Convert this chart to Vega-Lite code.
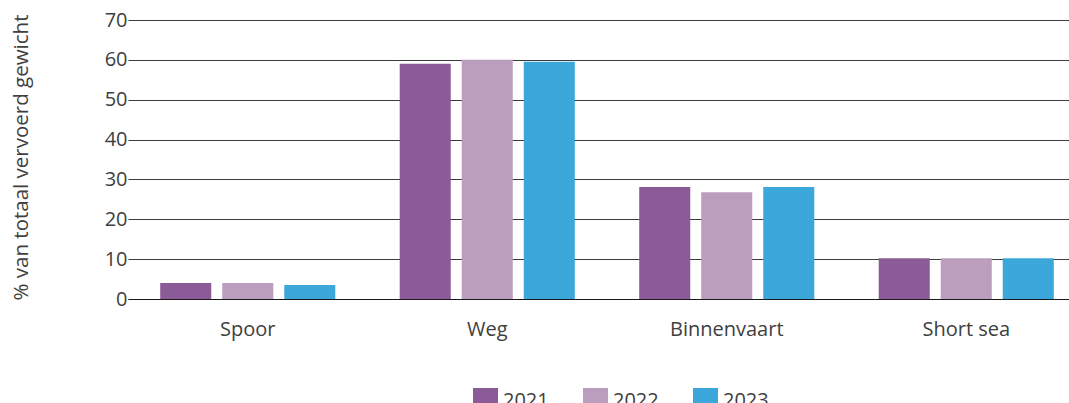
{
  "$schema": "https://vega.github.io/schema/vega-lite/v6.json",
  "width": 936,
  "height": 279,
  "autosize": {"type": "none"},
  "padding": {"left": 133, "top": 20, "right": 0, "bottom": 104},
  "background": "white",
  "config": {
    "view": {"stroke": null},
    "font": "Open Sans",
    "axis": {"labelFont": "Open Sans", "titleFont": "Open Sans", "labelColor": "#404040", "titleColor": "#404040"},
    "legend": {"labelFont": "Open Sans"}
  },
  "data": {
    "values": [
      {"modus": "Spoor", "jaar": "2021", "pct": 4.0},
      {"modus": "Spoor", "jaar": "2022", "pct": 4.0},
      {"modus": "Spoor", "jaar": "2023", "pct": 3.5},
      {"modus": "Weg", "jaar": "2021", "pct": 59.0},
      {"modus": "Weg", "jaar": "2022", "pct": 60.0},
      {"modus": "Weg", "jaar": "2023", "pct": 59.5},
      {"modus": "Binnenvaart", "jaar": "2021", "pct": 28.1},
      {"modus": "Binnenvaart", "jaar": "2022", "pct": 26.8},
      {"modus": "Binnenvaart", "jaar": "2023", "pct": 28.1},
      {"modus": "Short sea", "jaar": "2021", "pct": 10.2},
      {"modus": "Short sea", "jaar": "2022", "pct": 10.2},
      {"modus": "Short sea", "jaar": "2023", "pct": 10.2}
    ]
  },
  "mark": {"type": "bar"},
  "encoding": {
    "x": {
      "field": "modus",
      "type": "nominal",
      "sort": ["Spoor", "Weg", "Binnenvaart", "Short sea"],
      "scale": {"range": [-5, 953], "paddingInner": 0.269, "paddingOuter": 0.1345},
      "axis": {
        "title": null,
        "labelAngle": 0,
        "labelFontSize": 20,
        "labelPadding": 20,
        "ticks": false,
        "domain": true,
        "domainColor": "#1a1a1a",
        "domainWidth": 1.2,
        "grid": false
      }
    },
    "xOffset": {
      "field": "jaar",
      "type": "nominal",
      "scale": {"paddingInner": 0.177, "paddingOuter": 0}
    },
    "y": {
      "field": "pct",
      "type": "quantitative",
      "scale": {"domain": [0, 70], "nice": false},
      "axis": {
        "title": "% van totaal vervoerd gewicht",
        "titleFontSize": 20.5,
        "titleFontWeight": "normal",
        "titleX": -112,
        "titleY": 137,
        "titleAngle": -90,
        "titleAlign": "center",
        "titleBaseline": "middle",
        "values": [0, 10, 20, 30, 40, 50, 60, 70],
        "labelFontSize": 20,
        "labelPadding": 6,
        "ticks": false,
        "domain": false,
        "grid": true,
        "gridColor": "#3c3c3c",
        "gridWidth": 1.2
      }
    },
    "color": {
      "field": "jaar",
      "type": "nominal",
      "scale": {"domain": ["2021", "2022", "2023"], "range": ["#8A5B96", "#BB9EBE", "#3CA7DB"]},
      "legend": {
        "title": null,
        "orient": "none",
        "direction": "horizontal",
        "legendX": 340,
        "legendY": 368,
        "padding": 0,
        "symbolType": "square",
        "symbolSize": 625,
        "symbolStrokeWidth": 0,
        "symbolOpacity": 1,
        "labelFontSize": 20,
        "labelColor": "#404040",
        "labelOffset": 5,
        "columnPadding": 34
      }
    }
  }
}
